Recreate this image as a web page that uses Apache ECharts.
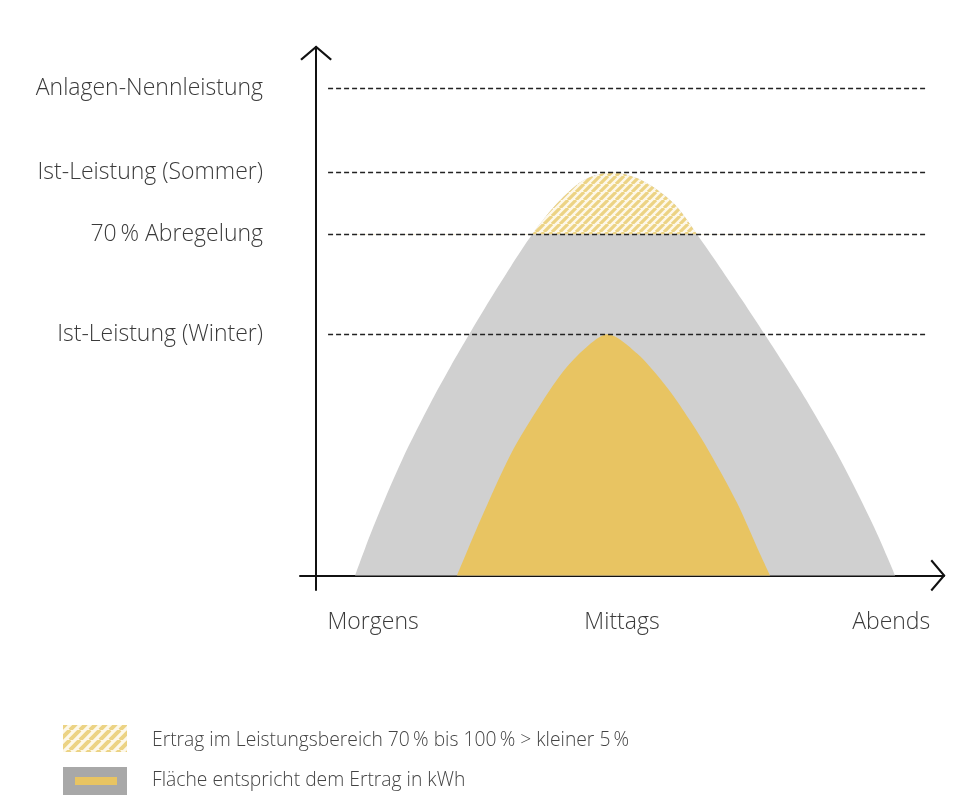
<!DOCTYPE html>
<html><head><meta charset="utf-8">
<script src="https://cdn.jsdelivr.net/npm/echarts@6/dist/echarts.min.js"></script>
<style>html,body{margin:0;padding:0;background:#fff}#c{width:958px;height:803px}</style>
</head><body><div id="c"></div>
<script>
// Summer (gray) curve: time vs power
const summerTime  = [6.06, 8.88, 13.35, 18.01, 20.84, 23.73, 26.99, 30.22, 33.54, 37.52, 41.61, 45.96,
                     50.47, 55.43, 59.16, 62.64, 66.12, 69.70, 72.93, 76.12, 81.43, 86.63, 89.91];
const summerPower = [0, 9.94, 23.7, 36.0, 42.8, 49.4, 56.6, 63.4, 70.0, 76.5, 81.2, 82.75,
                     81.2, 76.5, 70.0, 63.4, 56.6, 49.4, 42.8, 36.0, 23.7, 9.94, 0];
// Winter (yellow) curve
const winterTime  = [21.9, 25.5, 30.28, 34.94, 38.51, 41.93, 45.2, 49.8, 54.5, 58.07, 61.2, 65.4, 68.9, 70.5];
const winterPower = [0, 11.3, 25.05, 35.3, 42.1, 46.8, 49.5, 45.6, 38.6, 31.8, 25.05, 14.8, 4.5, 0];
// Power levels (dashed reference lines + y labels)
const levelValues = [100, 82.75, 70, 49.5];
const levelLabels = ['Anlagen-Nennleistung', 'Ist-Leistung (Sommer)', '70\u2009% Abregelung', 'Ist-Leistung (Winter)'];
const curtailLevel = 70;
// Time labels
const timeValues = [8.85, 47.5, 89.3];
const timeLabels = ['Morgens', 'Mittags', 'Abends'];
// Legend texts
const legendLabels = ['Ertrag im Leistungsbereich 70\u2009% bis 100\u2009% > kleiner 5\u2009%', 'Fläche entspricht dem Ertrag in kWh'];

const FONT = "'Open Sans', 'DejaVu Sans', sans-serif";
const X_MIN = -2.5, X_MAX = 97.5, Y_MIN = -3, Y_MAX = 108.5;
const GRID_TOP = 47, GRID_BOTTOM = 213, GRID_LEFT = 300, GRID_RIGHT = 14;
const gridH = 803 - GRID_TOP - GRID_BOTTOM;
const grid2H = (Y_MAX - curtailLevel) * gridH / (Y_MAX - Y_MIN);

function stripes(size, bg, fg, w) {
  const c = document.createElement('canvas');
  c.width = c.height = size;
  const g = c.getContext('2d');
  g.fillStyle = bg; g.fillRect(0, 0, size, size);
  g.strokeStyle = fg; g.lineWidth = w;
  g.beginPath();
  for (let k = -1; k <= 1; k++) { g.moveTo(k * size, size); g.lineTo(k * size + size, 0); }
  g.stroke();
  return c;
}
const hatch = { image: stripes(8, '#fdf8ea', '#ecd384', 3.2), repeat: 'repeat' };
const hatchLegend = { image: stripes(10, '#fdf8ea', '#ecd384', 4), repeat: 'repeat' };

const summerData = summerTime.map((t, i) => [t, summerPower[i]]);
const winterData = winterTime.map((t, i) => [t, winterPower[i]]);

function nearestLabel(v, vals, labels) {
  let best = -1, d = 1e9;
  vals.forEach((x, i) => { if (Math.abs(x - v) < d) { d = Math.abs(x - v); best = i; } });
  return d < 0.01 ? labels[best] : '';
}

const chevron = 'path://M0,14 L16.5,0 L33,14 L31.4,15.6 L16.5,2.9 L1.6,15.6 Z';
const axisLineStyle = { color: '#111', width: 2 };
const SMOOTH = 0.3;

const chart = echarts.init(document.getElementById('c'));
chart.setOption({
  animation: false,
  backgroundColor: '#fff',
  grid: [
    { left: GRID_LEFT, right: GRID_RIGHT, top: GRID_TOP, bottom: GRID_BOTTOM, outerBoundsMode: 'none' },
    { left: GRID_LEFT, right: GRID_RIGHT, top: GRID_TOP, height: grid2H, outerBoundsMode: 'none' }
  ],
  xAxis: [
    {
      type: 'value', min: X_MIN, max: X_MAX, gridIndex: 0,
      axisLine: { onZero: true, lineStyle: axisLineStyle, symbol: ['none', chevron], symbolSize: [33, 15], symbolOffset: [0, -6] },
      axisTick: { show: false }, splitLine: { show: false },
      axisLabel: {
        customValues: timeValues, margin: 21, fontSize: 23, color: '#3a3a3a', fontFamily: FONT, fontWeight: 300,
        formatter: v => nearestLabel(v, timeValues, timeLabels)
      }
    },
    { type: 'value', min: X_MIN, max: X_MAX, gridIndex: 1, show: false }
  ],
  yAxis: [
    {
      type: 'value', min: Y_MIN, max: Y_MAX, gridIndex: 0,
      axisLine: { onZero: true, lineStyle: axisLineStyle, symbol: ['none', chevron], symbolSize: [33, 15], symbolOffset: [0, -6] },
      axisTick: { show: false }, splitLine: { show: false },
      axisLabel: {
        customValues: levelValues, margin: 37, fontSize: 23, color: '#3a3a3a', fontFamily: FONT, fontWeight: 300,
        formatter: v => nearestLabel(v, levelValues, levelLabels)
      }
    },
    { type: 'value', min: curtailLevel, max: Y_MAX, gridIndex: 1, show: false }
  ],
  series: [
    {
      name: 'Sommer', type: 'line', data: summerData, smooth: SMOOTH,
      symbol: 'none', lineStyle: { width: 0 }, areaStyle: { color: '#d0d0d0', opacity: 1 }, z: 2
    },
    {
      name: 'Abregelung', type: 'line', xAxisIndex: 1, yAxisIndex: 1, data: summerData, smooth: SMOOTH,
      symbol: 'none', lineStyle: { width: 0 }, areaStyle: { color: hatch, opacity: 1, origin: 'start' }, z: 3, clip: true
    },
    {
      name: 'Winter', type: 'line', data: winterData, smooth: SMOOTH,
      symbol: 'none', lineStyle: { width: 0 }, areaStyle: { color: '#e8c462', opacity: 1 }, z: 4,
      markLine: {
        silent: true, symbol: 'none', label: { show: false }, z: 10,
        lineStyle: { color: '#222', width: 1.3, type: [5, 3] },
        data: levelValues.map(v => [{ coord: [1.86, v] }, { coord: [94.7, v] }])
      }
    }
  ],
  graphic: [
    { type: 'rect', shape: { x: 63, y: 725, width: 64, height: 27 }, style: { fill: hatchLegend } },
    { type: 'rect', shape: { x: 63, y: 767, width: 64, height: 28 }, style: { fill: '#a8a8a8' } },
    { type: 'rect', shape: { x: 75, y: 777, width: 42, height: 8 }, style: { fill: '#e8c462' } },
    { type: 'text', x: 152, y: 741, style: { text: legendLabels[0], fontSize: 19.3, fontFamily: FONT, fontWeight: 300, fill: '#444', verticalAlign: 'middle' } },
    { type: 'text', x: 152, y: 781, style: { text: legendLabels[1], fontSize: 19.3, fontFamily: FONT, fontWeight: 300, fill: '#444', verticalAlign: 'middle' } }
  ]
});
</script>
</body></html>
